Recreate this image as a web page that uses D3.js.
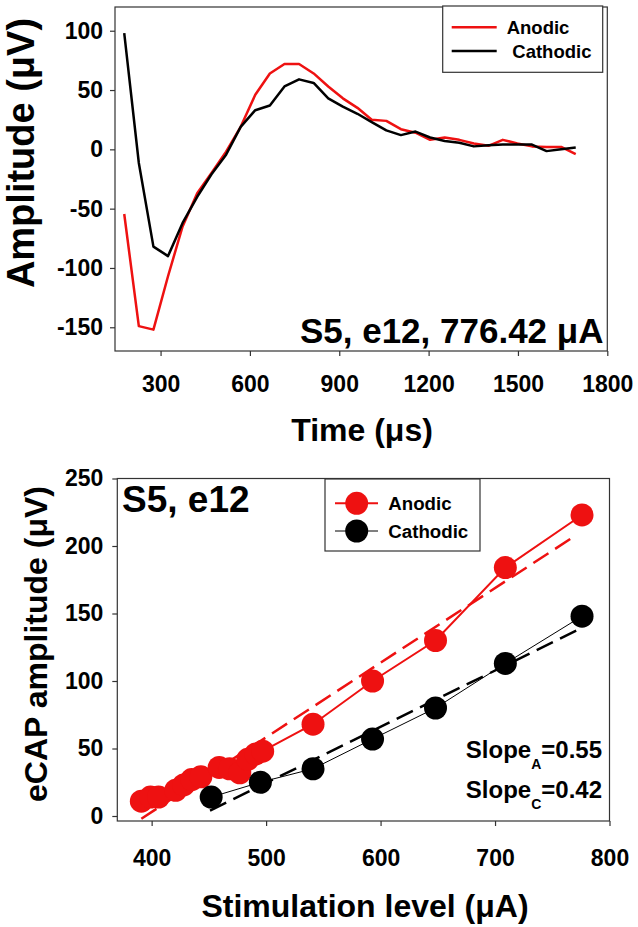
<!DOCTYPE html>
<html><head><meta charset="utf-8">
<script src="https://cdn.jsdelivr.net/npm/d3@7"></script>
<style>
body{margin:0;background:#fff}
svg{display:block}
text{font-family:"Liberation Sans",Arial,Helvetica,sans-serif;font-weight:bold;fill:#000}
</style>
</head><body>
<svg id="c" width="638" height="927"></svg>
<script>
// ---------- Panel A: eCAP waveforms ----------
const timeUs = [178, 227, 276, 325, 374, 423, 471, 520, 569, 618, 667, 716, 765, 814, 863, 912,
                961, 1009, 1058, 1107, 1156, 1205, 1254, 1303, 1352, 1401, 1449, 1498, 1547, 1596, 1645, 1694];
const anodicTrace = [-54.5, -149, -152, -107, -65, -37, -20, -2, 19, 46, 64, 72, 72, 64, 53, 43,
                     35, 25, 24, 17, 14, 8, 10, 8, 5, 3, 8, 5, 2.5, 2, 2, -4];
const cathodicTrace = [98, -11.5, -82, -90, -62, -40, -21, -4.5, 19, 33, 37, 53, 59, 56, 43, 36,
                       30, 23, 16, 12, 15, 10, 7, 5.5, 2.5, 3.5, 4, 4, 4, -1.5, 0, 1.5];
const timeTicks = [300, 600, 900, 1200, 1500, 1800];
const ampTicks = [-150, -100, -50, 0, 50, 100];
const panelALabel = "S5, e12, 776.42 \u03bcA";

// ---------- Panel B: growth functions ----------
const stimAnodic = [391, 399, 406, 421, 428, 435, 443, 459, 468, 477, 484, 491, 497, 541, 593, 648, 709, 776];
const ecapAnodic = [11, 14, 14, 19, 23, 27, 29, 36, 35, 32, 42, 46, 48, 68, 100, 130, 184, 223];
const stimCathodic = [452, 495, 541, 593, 648, 709, 776];
const ecapCathodic = [14, 25, 35, 57, 80, 113, 148];
const fitAnodicX = [391, 769];
const fitAnodicY = [-2, 207];
const fitCathodicX = [451, 775];
const fitCathodicY = [4, 139];
const stimTicks = [400, 500, 600, 700, 800];
const ecapTicks = [0, 50, 100, 150, 200, 250];
const seriesNames = ["Anodic", "Cathodic"];
const slopeSubs = ["A", "C"];
const slopeVals = ["0.55", "0.42"];
const panelBLabel = "S5, e12";

const RED = "#ee1111", BLACK = "#000", FRAME = "#333";
const svg = d3.select("#c");

function styleAxis(g, fs) {
  g.select(".domain").remove();
  g.selectAll(".tick line").attr("stroke", FRAME).attr("stroke-width", 1.2);
  g.selectAll(".tick text").style("font-size", fs + "px").attr("fill", "#000");
}

// ================= Panel A =================
{
  const L = 115, R = 607.3, T = 7, B = 351;
  const x = d3.scaleLinear().domain([147, 1800]).range([L, R]);
  const y = d3.scaleLinear().domain([-170, 120]).range([B, T]);

  const gx = svg.append("g").attr("transform", `translate(0,${B})`)
    .call(d3.axisBottom(x).tickValues(timeTicks).tickSize(5).tickFormat(d3.format("d")));
  styleAxis(gx, 23);
  gx.selectAll(".tick text").attr("dy", null).attr("y", 40.5);

  const gy = svg.append("g").attr("transform", `translate(${L},0)`)
    .call(d3.axisLeft(y).tickValues(ampTicks).tickSize(5).tickPadding(7)
      .tickFormat(d => d < 0 ? "-" + Math.abs(d) : String(d)));
  styleAxis(gy, 23);

  const line = d3.line().x((d, i) => x(timeUs[i])).y(d => y(d));
  svg.append("path").datum(anodicTrace).attr("d", line)
    .attr("fill", "none").attr("stroke", RED).attr("stroke-width", 2.5).attr("stroke-linejoin", "round");
  svg.append("path").datum(cathodicTrace).attr("d", line)
    .attr("fill", "none").attr("stroke", BLACK).attr("stroke-width", 2.5).attr("stroke-linejoin", "round");

  svg.append("rect").attr("x", L).attr("y", T).attr("width", R - L).attr("height", B - T)
    .attr("fill", "none").attr("stroke", FRAME).attr("stroke-width", 1.2);

  // legend
  const lg = svg.append("g");
  lg.append("rect").attr("x", 442.7).attr("y", 6).attr("width", 160).attr("height", 66.3)
    .attr("fill", "#fff").attr("stroke", FRAME).attr("stroke-width", 1.2);
  [RED, BLACK].forEach((c, i) => {
    const yy = 27.3 + i * 23.7;
    lg.append("line").attr("x1", 451.7).attr("x2", 496.7).attr("y1", yy).attr("y2", yy)
      .attr("stroke", c).attr("stroke-width", 2.5);
    lg.append("text").attr("x", i === 0 ? 506.7 : 512.3).attr("y", yy + 6.6)
      .style("font-size", "18.5px").text(seriesNames[i]);
  });

  svg.append("text").attr("x", 603.5).attr("y", 343).attr("text-anchor", "end")
    .style("font-size", "35px").text(panelALabel);

  svg.append("text").attr("x", 362).attr("y", 441).attr("text-anchor", "middle")
    .style("font-size", "32px").text("Time (\u03bcs)");
  svg.append("text").attr("transform", "translate(34,153) rotate(-90)").attr("text-anchor", "middle")
    .style("font-size", "38px").text("Amplitude (\u03bcV)");
}

// ================= Panel B =================
{
  const L = 117.3, R = 609.5, T = 478.5, B = 821;
  const x = d3.scaleLinear().domain([370, 800]).range([L, R]);
  const y = d3.scaleLinear().domain([-3.7, 250]).range([B, T]);

  const gx = svg.append("g").attr("transform", `translate(0,${B})`)
    .call(d3.axisBottom(x).tickValues(stimTicks).tickSize(5));
  styleAxis(gx, 23);
  gx.selectAll(".tick text").attr("dy", null).attr("y", 45);

  const gy = svg.append("g").attr("transform", `translate(${L},0)`)
    .call(d3.axisLeft(y).tickValues(ecapTicks).tickSize(5).tickPadding(9));
  styleAxis(gy, 23);

  const fitLine = d3.line().x(d => x(d[0])).y(d => y(d[1]));
  const ptLine = d3.line().x(d => x(d[0])).y(d => y(d[1]));

  const aPts = stimAnodic.map((s, i) => [s, ecapAnodic[i]]);
  const cPts = stimCathodic.map((s, i) => [s, ecapCathodic[i]]);

  svg.append("path").datum(fitAnodicX.map((v, i) => [v, fitAnodicY[i]])).attr("d", fitLine)
    .attr("fill", "none").attr("stroke", RED).attr("stroke-width", 2.5).attr("stroke-dasharray", "18,8");
  svg.append("path").datum(fitCathodicX.map((v, i) => [v, fitCathodicY[i]])).attr("d", fitLine)
    .attr("fill", "none").attr("stroke", BLACK).attr("stroke-width", 2.5).attr("stroke-dasharray", "18,8");

  svg.append("path").datum(aPts).attr("d", ptLine)
    .attr("fill", "none").attr("stroke", RED).attr("stroke-width", 2);
  svg.append("path").datum(cPts).attr("d", ptLine)
    .attr("fill", "none").attr("stroke", BLACK).attr("stroke-width", 1);

  svg.append("g").selectAll("circle").data(aPts).join("circle")
    .attr("cx", d => x(d[0])).attr("cy", d => y(d[1])).attr("r", 11.5).attr("fill", RED);
  svg.append("g").selectAll("circle").data(cPts).join("circle")
    .attr("cx", d => x(d[0])).attr("cy", d => y(d[1])).attr("r", 11.5).attr("fill", BLACK);

  svg.append("rect").attr("x", L).attr("y", T).attr("width", R - L).attr("height", B - T)
    .attr("fill", "none").attr("stroke", FRAME).attr("stroke-width", 1.2);

  // legend
  const lg = svg.append("g");
  lg.append("rect").attr("x", 325).attr("y", 479).attr("width", 155).attr("height", 72)
    .attr("fill", "#fff").attr("stroke", FRAME).attr("stroke-width", 1.2);
  [[RED, 2], [BLACK, 1]].forEach(([c, w], i) => {
    const yy = 503.3 + i * 27.7;
    lg.append("line").attr("x1", 335).attr("x2", 378).attr("y1", yy).attr("y2", yy)
      .attr("stroke", c).attr("stroke-width", w);
    lg.append("circle").attr("cx", 356.7).attr("cy", yy).attr("r", 11.5).attr("fill", c);
    lg.append("text").attr("x", 388.3).attr("y", yy + 6.7)
      .style("font-size", "18.7px").text(seriesNames[i]);
  });

  svg.append("text").attr("x", 122).attr("y", 511.5)
    .style("font-size", "37px").text(panelBLabel);

  slopeSubs.forEach((s, i) => {
    const t = svg.append("text").attr("x", 602).attr("y", 758.3 + i * 40).attr("text-anchor", "end")
      .style("font-size", "24px");
    t.append("tspan").text("Slope");
    t.append("tspan").attr("dy", 11).style("font-size", "14px").text(s);
    t.append("tspan").attr("dy", -11).text("=" + slopeVals[i]);
  });

  svg.append("text").attr("x", 365).attr("y", 917).attr("text-anchor", "middle")
    .style("font-size", "32px").text("Stimulation level (\u03bcA)");
  svg.append("text").attr("transform", "translate(47,644) rotate(-90)").attr("text-anchor", "middle")
    .style("font-size", "32px").text("eCAP amplitude (\u03bcV)");
}
</script>
</body></html>
